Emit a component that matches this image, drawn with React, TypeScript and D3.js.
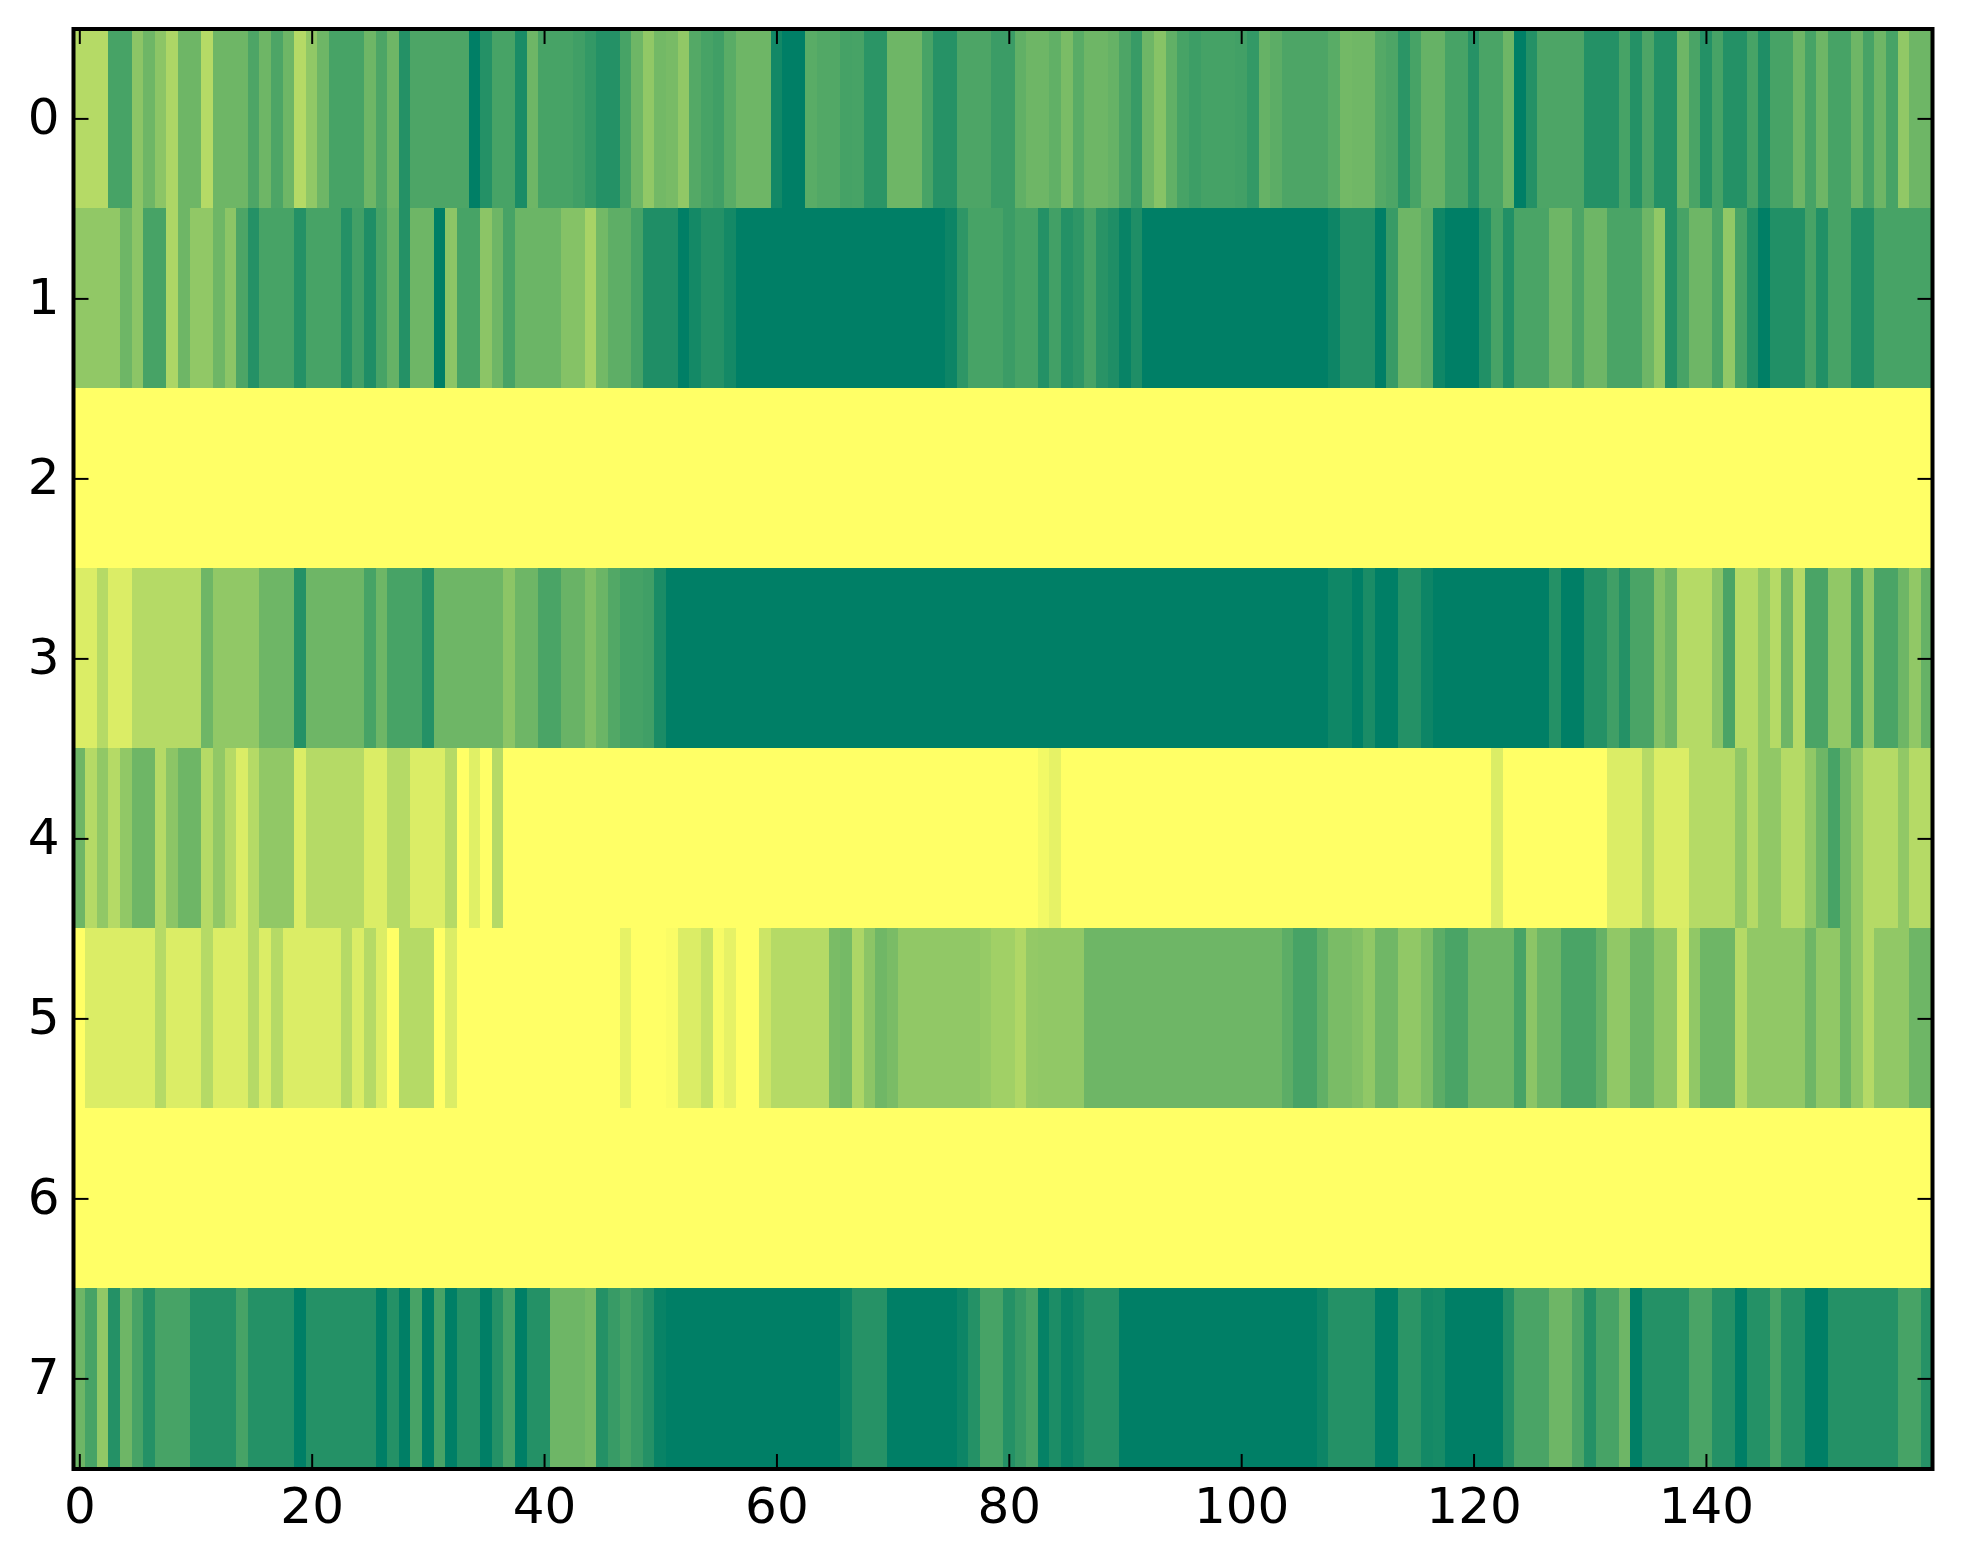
import React, { useEffect, useRef } from 'react';
import * as d3 from 'd3';

// colour level of each column, 0 = dark green end of the map, 100 = yellow end
const row0 = [
  71, 71, 71, 28, 28, 55, 43, 55, 68, 43,
  43, 71, 43, 43, 43, 30, 43, 30, 43, 71,
  57, 43, 28, 28, 28, 43, 30, 43, 14, 30,
  30, 30, 30, 30, 0, 14, 28, 28, 10, 43,
  28, 28, 28, 25, 20, 14, 14, 28, 43, 57,
  45, 47, 57, 33, 28, 25, 35, 43, 43, 43,
  7, 0, 0, 35, 32, 32, 27, 28, 17, 17,
  43, 43, 43, 28, 15, 15, 30, 30, 30, 23,
  23, 38, 43, 43, 38, 48, 35, 43, 43, 40,
  30, 22, 43, 53, 38, 28, 24, 27, 27, 27,
  26, 20, 40, 36, 30, 30, 30, 30, 35, 45,
  44, 44, 33, 30, 17, 28, 40, 40, 28, 28,
  15, 29, 29, 43, 0, 14, 30, 30, 30, 30,
  14, 14, 14, 28, 14, 30, 14, 14, 43, 29,
  14, 28, 14, 14, 28, 12, 28, 28, 43, 28,
  43, 28, 28, 43, 28, 43, 28, 57, 43, 43,
];
const row1 = [
  57, 57, 57, 57, 43, 55, 28, 28, 68, 43,
  57, 57, 43, 55, 30, 14, 28, 28, 28, 14,
  28, 28, 28, 14, 26, 12, 28, 40, 14, 43,
  43, 0, 55, 28, 28, 55, 43, 28, 42, 42,
  42, 42, 52, 52, 66, 45, 37, 37, 28, 12,
  12, 12, 0, 8, 14, 14, 8, 0, 0, 0,
  0, 0, 0, 0, 0, 0, 0, 0, 0, 0,
  0, 0, 0, 0, 0, 5, 18, 28, 28, 28,
  23, 28, 28, 14, 26, 14, 18, 28, 16, 12,
  3, 12, 0, 0, 0, 0, 0, 0, 0, 0,
  0, 0, 0, 0, 0, 0, 0, 0, 5, 14,
  14, 14, 0, 22, 43, 43, 36, 6, 0, 0,
  0, 13, 28, 13, 29, 29, 29, 43, 43, 30,
  43, 43, 29, 29, 29, 43, 57, 14, 28, 43,
  43, 29, 57, 28, 13, 0, 13, 13, 13, 28,
  13, 28, 28, 13, 13, 28, 28, 28, 28, 28,
];
const row2 = new Array(160).fill(100);
const row3 = [
  86, 86, 71, 86, 86, 71, 71, 71, 71, 71,
  71, 43, 57, 57, 57, 57, 43, 43, 43, 14,
  43, 43, 43, 43, 43, 28, 43, 28, 28, 28,
  14, 43, 43, 43, 43, 43, 43, 55, 43, 43,
  29, 29, 41, 41, 50, 42, 32, 27, 27, 25,
  10, 0, 0, 0, 0, 0, 0, 0, 0, 0,
  0, 0, 0, 0, 0, 0, 0, 0, 0, 0,
  0, 0, 0, 0, 0, 0, 0, 0, 0, 0,
  0, 0, 0, 0, 0, 0, 0, 0, 0, 0,
  0, 0, 0, 0, 0, 0, 0, 0, 0, 0,
  0, 0, 0, 0, 0, 0, 0, 0, 6, 6,
  0, 10, 0, 0, 14, 14, 5, 0, 0, 0,
  0, 0, 0, 0, 0, 0, 0, 14, 0, 0,
  14, 14, 25, 14, 29, 29, 52, 43, 71, 71,
  71, 55, 29, 71, 71, 57, 71, 43, 71, 29,
  29, 57, 57, 28, 57, 29, 29, 43, 57, 40,
];
const row4 = [
  43, 71, 57, 71, 57, 43, 43, 71, 55, 43,
  43, 71, 57, 71, 86, 71, 57, 57, 57, 86,
  71, 71, 71, 71, 71, 86, 86, 71, 71, 86,
  86, 86, 71, 100, 88, 100, 71, 100, 100, 100,
  100, 100, 100, 100, 100, 100, 100, 100, 100, 100,
  100, 100, 100, 100, 100, 100, 100, 100, 100, 100,
  100, 100, 100, 100, 100, 100, 100, 100, 100, 100,
  100, 100, 100, 100, 100, 100, 100, 100, 100, 100,
  100, 100, 100, 95, 90, 100, 100, 100, 100, 100,
  100, 100, 100, 100, 100, 100, 100, 100, 100, 100,
  100, 100, 100, 100, 100, 100, 100, 100, 100, 100,
  100, 100, 100, 100, 100, 100, 100, 100, 100, 100,
  100, 100, 86, 100, 100, 100, 100, 100, 100, 100,
  100, 100, 86, 86, 86, 71, 86, 86, 86, 71,
  71, 71, 71, 57, 71, 57, 57, 71, 71, 57,
  43, 28, 43, 57, 71, 71, 71, 57, 71, 71,
];
const row5 = [
  100, 86, 86, 86, 86, 86, 86, 71, 86, 86,
  86, 71, 86, 86, 86, 71, 86, 71, 86, 86,
  86, 86, 86, 71, 86, 71, 86, 100, 71, 71,
  71, 100, 86, 100, 100, 100, 100, 100, 100, 100,
  100, 100, 100, 100, 100, 100, 100, 90, 100, 100,
  100, 98, 86, 86, 77, 97, 90, 100, 100, 80,
  71, 71, 71, 71, 71, 48, 46, 68, 55, 44,
  48, 57, 57, 57, 57, 57, 57, 57, 59, 63,
  63, 69, 58, 57, 57, 57, 57, 43, 43, 43,
  43, 43, 43, 43, 43, 43, 43, 43, 43, 43,
  43, 43, 43, 43, 36, 28, 28, 38, 48, 48,
  51, 57, 44, 44, 57, 57, 49, 36, 29, 29,
  43, 43, 43, 43, 28, 55, 43, 43, 29, 29,
  29, 40, 57, 57, 43, 43, 57, 57, 84, 57,
  43, 43, 43, 71, 57, 57, 57, 57, 57, 43,
  57, 57, 43, 57, 71, 57, 57, 57, 43, 43,
];
const row6 = new Array(160).fill(100);
const row7 = [
  43, 28, 57, 14, 43, 28, 14, 28, 28, 28,
  14, 14, 14, 14, 28, 14, 14, 14, 14, 0,
  14, 14, 14, 14, 14, 14, 0, 14, 0, 28,
  0, 28, 0, 14, 14, 0, 14, 28, 0, 14,
  14, 43, 43, 43, 47, 14, 22, 28, 22, 14,
  3, 0, 0, 0, 0, 0, 0, 0, 0, 0,
  0, 0, 0, 0, 0, 0, 5, 15, 15, 15,
  0, 0, 0, 0, 0, 0, 5, 14, 28, 28,
  14, 21, 28, 2, 11, 3, 7, 14, 14, 14,
  0, 0, 0, 0, 0, 0, 0, 0, 0, 0,
  0, 0, 0, 0, 0, 0, 0, 5, 14, 14,
  14, 14, 0, 0, 17, 17, 8, 9, 0, 0,
  0, 0, 0, 14, 29, 29, 29, 43, 43, 30,
  14, 28, 28, 43, 0, 14, 14, 14, 14, 29,
  29, 14, 14, 0, 14, 14, 28, 14, 14, 0,
  0, 14, 14, 14, 14, 14, 14, 28, 28, 15,
];
const rows = [row0, row1, row2, row3, row4, row5, row6, row7];

const xTicks = [0, 20, 40, 60, 80, 100, 120, 140];
const yTicks = [0, 1, 2, 3, 4, 5, 6, 7];

const App: React.FC = () => {
  const svgRef = useRef<SVGSVGElement>(null);

  useEffect(() => {
    if (!svgRef.current) return;
    const svg = d3.select(svgRef.current);
    svg.selectAll('*').remove();

    const width = 1963;
    const height = 1564;
    const margin = { top: 29, right: 30.5, bottom: 95, left: 73.5 };
    const fontSize = 50;

    const x = d3.scaleLinear().domain([-0.5, 159.5]).range([margin.left, width - margin.right]);
    // image sits half a pixel above the frame
    const y = d3.scaleLinear().domain([-0.5, 7.5]).range([margin.top - 0.6, height - margin.bottom - 0.6]);

    // summer colormap
    const color = d3.scaleLinear<string>().domain([0, 100]).range(['#007f66', '#ffff66']);

    // one rect per cell
    svg
      .append('g')
      .attr('shape-rendering', 'crispEdges')
      .selectAll('g')
      .data(rows)
      .join('g')
      .each(function (values, r) {
        d3.select(this)
          .selectAll('rect')
          .data(values)
          .join('rect')
          .attr('x', (_, i) => x(i - 0.5))
          .attr('y', y(r - 0.5))
          .attr('width', (_, i) => x(i + 0.5) - x(i - 0.5))
          .attr('height', y(r + 0.5) - y(r - 0.5))
          .attr('fill', (d) => color(d as number));
      });

    // axes, ticks point inward on all four sides
    const fmt = d3.format('d') as any;
    const none = (() => '') as any;
    const addAxis = (axis: d3.Axis<d3.NumberValue>, tx: number, ty: number) =>
      svg
        .append('g')
        .attr('transform', `translate(${tx},${ty})`)
        .call(axis as any)
        .call((g) => g.select('.domain').remove())
        .call((g) => g.selectAll('.tick line').attr('stroke', '#000').attr('stroke-width', 2))
        .call((g) =>
          g
            .selectAll('.tick text')
            .attr('fill', '#000')
            .attr('font-family', '"DejaVu Sans"')
            .attr('font-size', fontSize)
        );

    addAxis(d3.axisBottom(x).tickValues(xTicks).tickSizeInner(-15).tickSizeOuter(0).tickPadding(18).tickFormat(fmt), 0, height - margin.bottom);
    addAxis(d3.axisTop(x).tickValues(xTicks).tickSizeInner(-15).tickSizeOuter(0).tickFormat(none), 0, margin.top);
    addAxis(d3.axisLeft(y).tickValues(yTicks).tickSizeInner(-15).tickSizeOuter(0).tickPadding(14).tickFormat(fmt), margin.left, 0)
      .selectAll('.tick text')
      .attr('dy', '0.31em');
    addAxis(d3.axisRight(y).tickValues(yTicks).tickSizeInner(-15).tickSizeOuter(0).tickFormat(none), width - margin.right, 0);

    // frame
    svg
      .append('rect')
      .attr('x', margin.left)
      .attr('y', margin.top)
      .attr('width', width - margin.left - margin.right)
      .attr('height', height - margin.top - margin.bottom)
      .attr('fill', 'none')
      .attr('stroke', '#000')
      .attr('stroke-width', 4);
  }, []);

  return (
    <svg
      ref={svgRef}
      width={1963}
      height={1564}
      style={{ position: 'absolute', left: 0, top: 0, background: '#fff' }}
    />
  );
};

export default App;
